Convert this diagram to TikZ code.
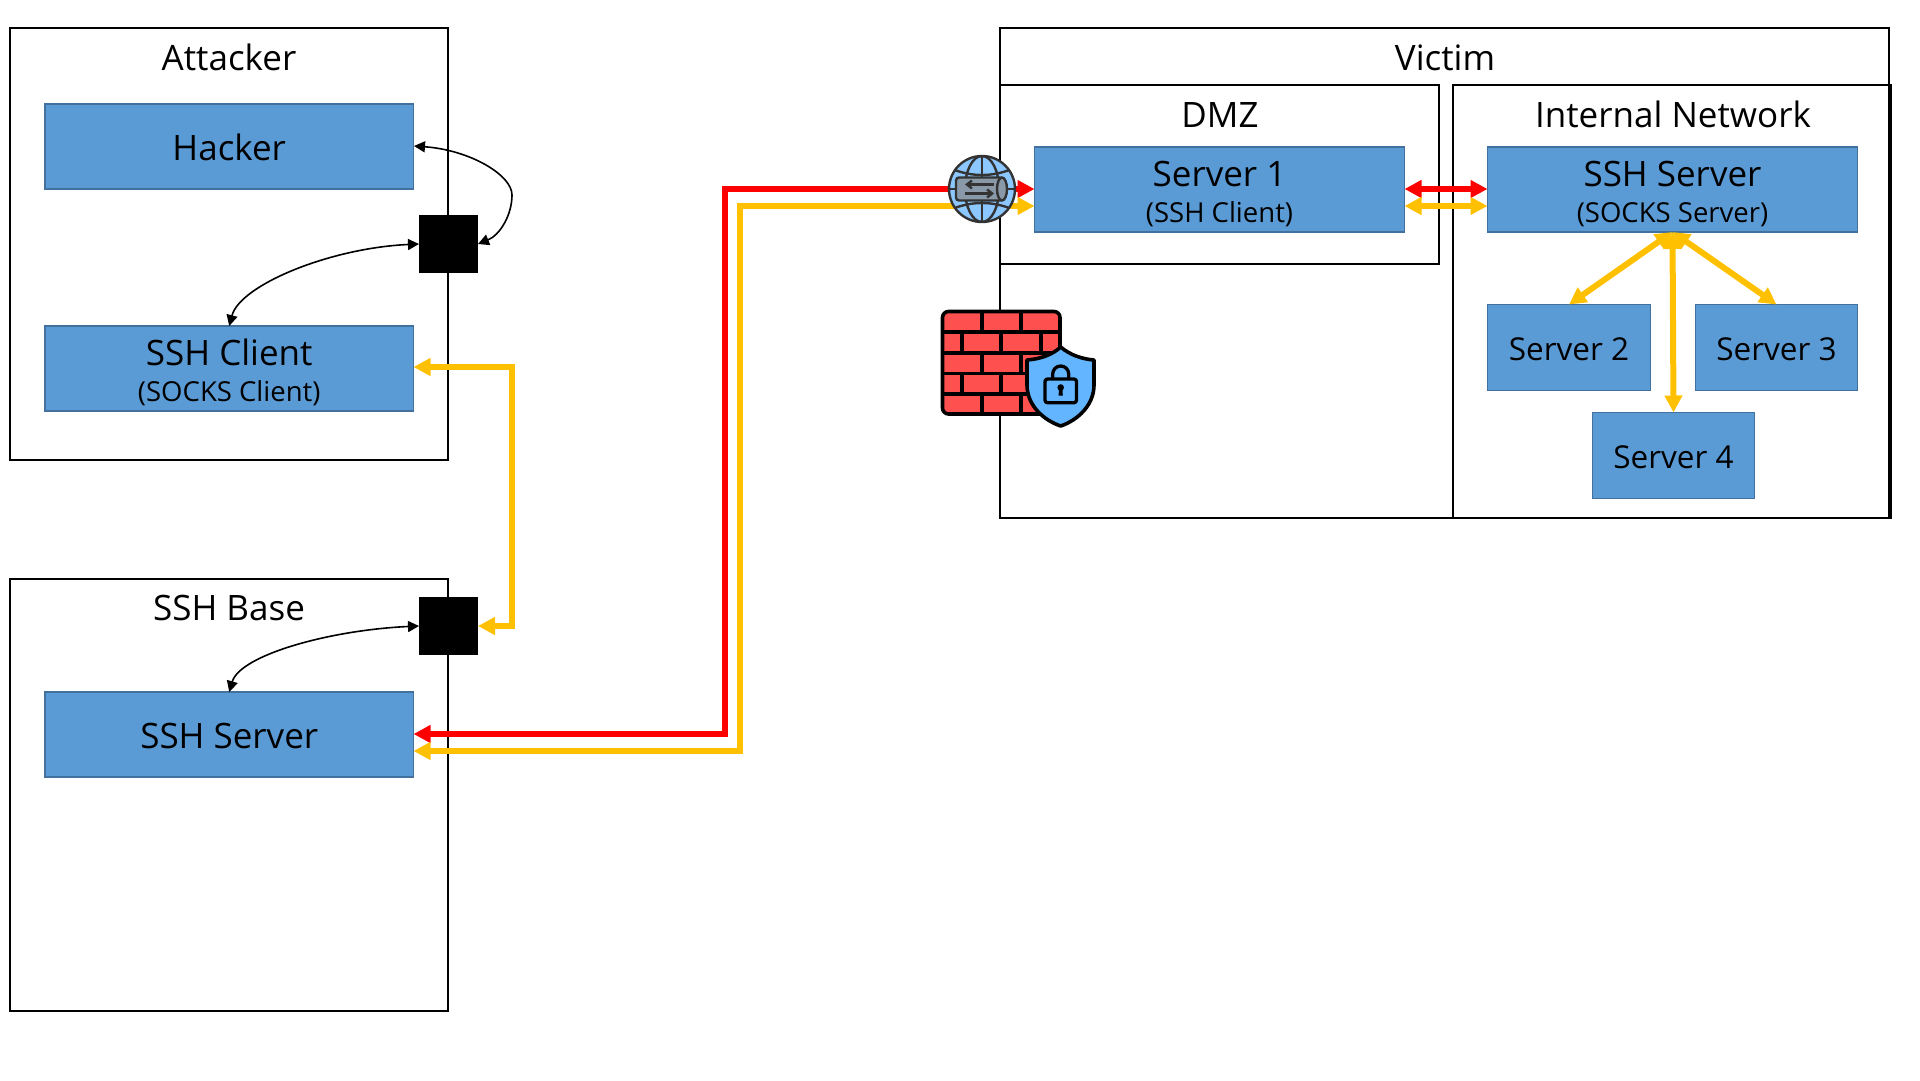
\documentclass[tikz,border=0pt]{standalone}
\usepackage{fontspec}
\setmainfont{Open Sans}
\usetikzlibrary{arrows.meta,calc}
\definecolor{boxfill}{HTML}{5B9BD5}
\definecolor{boxline}{HTML}{41719C}
\definecolor{ared}{HTML}{FF0000}
\definecolor{ayel}{HTML}{FFC000}
\definecolor{brick}{HTML}{FF5050}
\definecolor{shieldc}{HTML}{64B5FF}
\definecolor{globec}{HTML}{8CC8FF}
\definecolor{globel}{HTML}{333333}
\definecolor{pipec}{HTML}{8A99A8}
\newcommand{\fbig}{\fontsize{35}{36}\selectfont}
\newcommand{\fmid}{\fontsize{31.5}{32}\selectfont}
\newcommand{\fsub}{\fontsize{27.5}{28}\selectfont}
\newcommand{\topstrut}{\rule{0pt}{35pt}}
\newcommand{\onestrut}{\rule{0pt}{29pt}}
\tikzset{
  x=1pt,y=-1pt,
  every node/.style={inner sep=0pt,outer sep=0pt},
  frame/.style={draw=black,line width=2pt,anchor=north west},
  box/.style={draw=boxline,fill=boxfill,line width=1.7pt,anchor=north west,align=center,text=black},
  title/.style={font=\fbig,text=black},
  blacksq/.style={fill=black,anchor=north west},
  thick arrow/.style={line width=6pt},
  redflow/.style={thick arrow,draw=ared,{Triangle[length=17pt,width=17pt]}-{Triangle[length=17pt,width=17pt]}},
  yelflow/.style={thick arrow,draw=ayel,{Triangle[length=17pt,width=17pt]}-{Triangle[length=17pt,width=17pt]}},
  thin arrow/.style={line width=1.6pt,draw=black,{Triangle[length=11pt,width=11pt]}-{Triangle[length=11pt,width=11pt]}},
  icon/.style={line width=3.6pt,draw=black,line join=round},
  lockline/.style={line width=3.3pt,draw=black,line join=round},
  globeline/.style={line width=2.4pt,draw=globel},
}
\begin{document}
\begin{tikzpicture}
\useasboundingbox (0,0) rectangle (1920,1080);
% containers
\node[frame,minimum width=438pt,minimum height=432pt] (attacker) at (10,28) {};
\node[frame,minimum width=438pt,minimum height=432pt] (base) at (10,579) {};
\node[frame,minimum width=889pt,minimum height=490pt] (victim) at (1000,28) {};
\node[frame,minimum width=439pt,minimum height=179pt] (dmz) at (1000,85) {};
\node[frame,minimum width=438pt,minimum height=433pt] (internal) at (1453,85) {};
% titles
\node[title] (tattacker) at (229,57) {Attacker};
\node[title] (tbase) at (229,608) {SSH Base};
\node[title] (tvictim) at (1445,58) {Victim};
\node[title] (tdmz) at (1220,115) {DMZ};
\node[title] (tinternal) at (1673,114) {Internal Network};
% boxes
\node[box,font=\fbig,minimum width=368.5pt,minimum height=85pt] (hacker) at (45,104) {\onestrut Hacker};
\node[box,font=\fbig,minimum width=368.5pt,minimum height=85pt] (client) at (45,326) {\topstrut SSH Client\\[0pt]{\fsub (SOCKS Client)}};
\node[box,font=\fbig,minimum width=368.5pt,minimum height=85pt] (server) at (45,692) {\onestrut SSH Server};
\node[box,font=\fbig,minimum width=370pt,minimum height=85pt] (s1) at (1034.5,147) {\topstrut Server 1\\[0pt]{\fsub (SSH Client)}};
\node[box,font=\fbig,minimum width=370pt,minimum height=85pt] (sshs) at (1487.5,147) {\topstrut SSH Server\\[0pt]{\fsub (SOCKS Server)}};
\node[box,font=\fmid,minimum width=163pt,minimum height=86pt] (s2) at (1487.5,304.5) {\rule{0pt}{26pt}Server 2};
\node[box,font=\fmid,minimum width=162pt,minimum height=86pt] (s3) at (1695.5,304.5) {\rule{0pt}{26pt}Server 3};
\node[box,font=\fmid,minimum width=162pt,minimum height=86pt] (s4) at (1592.5,412.5) {\rule{0pt}{26pt}Server 4};
% black squares
\node[blacksq,minimum width=59pt,minimum height=58pt] (b1) at (419,215) {};
\node[blacksq,minimum width=59pt,minimum height=58pt] (b2) at (419,597) {};
% routing points
\coordinate (r1) at (724.5,189);
\coordinate (r2) at (724.5,734);
\coordinate (y1) at (740,206);
\coordinate (y2) at (740,751);
\coordinate (c1) at (512,367);
\coordinate (c2) at (512,626);
% long flows
\draw[redflow] (s1.west |- r1) -- (r1) -- (r2) -- (server.east |- r2);
\draw[yelflow] (s1.west |- y1) -- (y1) -- (y2) -- (server.east |- y2);
\draw[yelflow] (client.east |- c1) -- (c1) -- (c2) -- (b2.east |- c2);
% local flows
\draw[redflow] (s1.east |- r1) -- (sshs.west |- r1);
\draw[yelflow] (s1.east |- y1) -- (sshs.west |- y1);
\draw[yelflow] (sshs.south) -- (s2.north);
\draw[yelflow] (sshs.south) -- (s3.north);
\draw[yelflow] (sshs.south) -- (s4.north);
% thin arrows
\draw[thin arrow] (414,146) .. controls (470,150) and (512,175) .. (512,195) .. controls (512,215) and (500,235) .. (b1.east);
\draw[thin arrow] (b1.west) .. controls (330,248) and (240,285) .. (client.north);
\draw[thin arrow] (b2.west) .. controls (330,630) and (240,655) .. (server.north);
% globe icon
\begin{scope}[shift={(982,189)}]
  \path[fill=globec] (0,0) circle[radius=33];
  \begin{scope}
    \clip (0,0) circle[radius=33];
    \draw[globeline] (0,-33) -- (0,33) (-33,0) -- (33,0);
    \draw[globeline] (0,0) ellipse[x radius=17,y radius=33];
    \draw[globeline] (-30,-20) .. controls (-10,-12) and (10,-12) .. (30,-20);
    \draw[globeline] (-30,20) .. controls (-10,12) and (10,12) .. (30,20);
  \end{scope}
  \draw[globeline] (0,0) circle[radius=33];
  \draw[globeline,fill=pipec,rounded corners=3pt] (-26,-11.5) -- (21,-11.5) -- (21,11.5) -- (-26,11.5) -- cycle;
  \draw[globeline,fill=pipec] (20,0) ellipse[x radius=5,y radius=11.5];
  \draw[globeline,-{Straight Barb[length=5pt,width=8pt]}] (12,-4.5) -- (-17,-4.5);
  \draw[globeline,-{Straight Barb[length=5pt,width=8pt]}] (-17,4.5) -- (12,4.5);
\end{scope}
% firewall icon
\draw[icon,fill=brick,rounded corners=6pt] (942.5,311.5) rectangle (1060,414);
\draw[icon,line cap=butt]
  (942.5,332) -- (1060,332) (942.5,352.7) -- (1060,352.7) (942.5,373.3) -- (1060,373.3) (942.5,394) -- (1060,394)
  (981.7,311.5) -- (981.7,332) (1021,311.5) -- (1021,332)
  (961.7,332) -- (961.7,352.7) (1001,332) -- (1001,352.7) (1040.7,332) -- (1040.7,352.7)
  (981.7,352.7) -- (981.7,373.3) (1021,352.7) -- (1021,373.3)
  (961.7,373.3) -- (961.7,394) (1001,373.3) -- (1001,394) (1040.7,373.3) -- (1040.7,394)
  (981.7,394) -- (981.7,414) (1021,394) -- (1021,414);
\draw[icon,fill=shieldc] (1060.7,347) .. controls (1070,355) and (1082,359) .. (1094,360)
  -- (1094,385) .. controls (1094,405) and (1078,420) .. (1060.7,426)
  .. controls (1043,420) and (1027,405) .. (1027,385) -- (1027,360)
  .. controls (1040,359) and (1052,355) .. (1060.7,347) -- cycle;
\draw[lockline,rounded corners=2.5pt] (1045,379) rectangle (1076.5,402.7);
\draw[lockline] (1052.7,379) -- (1052.7,374) arc[start angle=180,end angle=360,radius=8] -- (1068.7,379);
\fill[black] (1060.7,387.5) circle[radius=3.3];
\fill[black] (1059,388) -- (1062.4,388) -- (1062.8,395.5) -- (1058.6,395.5) -- cycle;
\end{tikzpicture}
\end{document}
